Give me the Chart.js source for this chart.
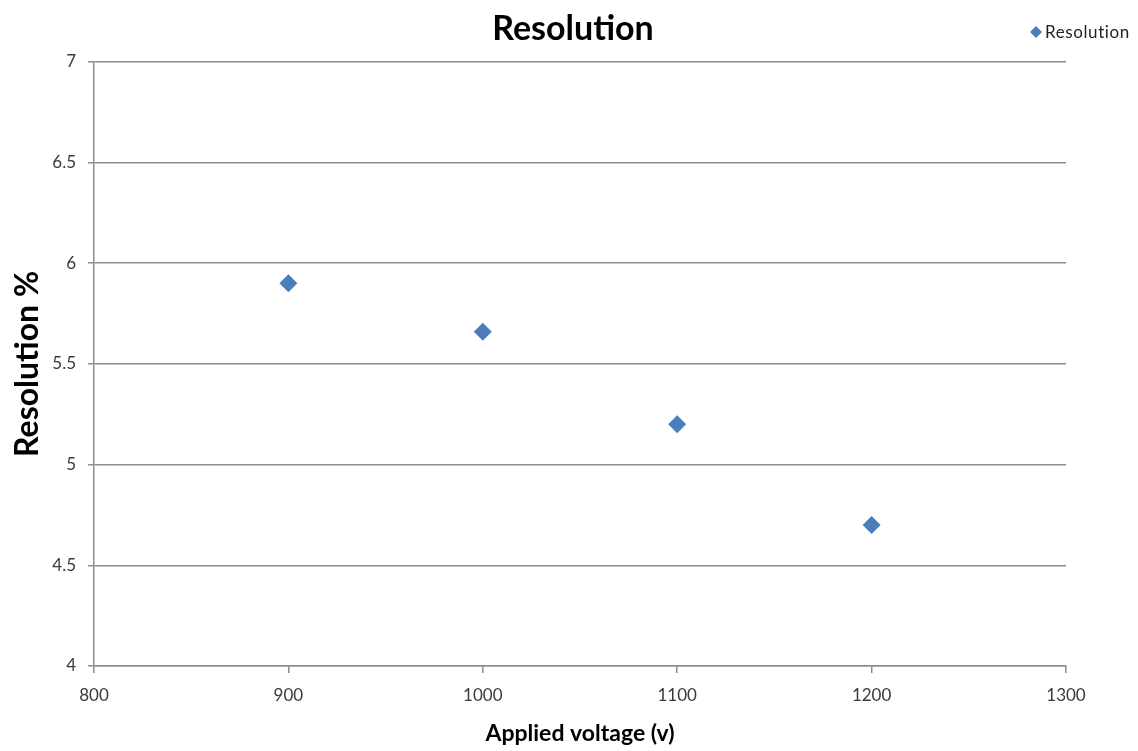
<!DOCTYPE html>
<html>
<head>
<meta charset="utf-8">
<title>Resolution</title>
<script src="https://cdn.jsdelivr.net/npm/chart.js@4/dist/chart.umd.min.js"></script>
<style>
    html, body { margin: 0; padding: 0; background: #fff; }
    #wrap { width: 1138px; height: 751px; }
</style>
</head>
<body>
<div id="wrap"><canvas id="resChart" width="1138" height="751"></canvas></div>
<script>
// Data
const seriesName = 'Resolution';
const voltages = [900, 1000, 1100, 1200];
const resolution = [5.9, 5.66, 5.2, 4.7];
const xTicks = [800, 900, 1000, 1100, 1200, 1300];
const yTicks = [4, 4.5, 5, 5.5, 6, 6.5, 7];

const FONT = "Lato, 'Open Sans', 'DejaVu Sans', sans-serif";
const MARK = '#4a7ebb';
const GRID = '#8e8e8e';

// Legend drawn in the top-right corner, Excel style
const cornerLegend = {
    id: 'cornerLegend',
    afterDraw(chart) {
        const ctx = chart.ctx;
        const ds = chart.data.datasets[0];
        ctx.save();
        ctx.fillStyle = ds.backgroundColor;
        const cx = 1036, cy = 32, r = 6;
        ctx.beginPath();
        ctx.moveTo(cx, cy - r);
        ctx.lineTo(cx + r, cy);
        ctx.lineTo(cx, cy + r);
        ctx.lineTo(cx - r, cy);
        ctx.closePath();
        ctx.fill();
        ctx.fillStyle = '#222';
        ctx.font = `17px ${FONT}`;
        ctx.letterSpacing = '0.6px';
        ctx.textBaseline = 'middle';
        ctx.fillText(ds.label, 1045, cy + 1);
        ctx.restore();
    }
};

function initChart() {
    const ctx = document.getElementById('resChart').getContext('2d');
    new Chart(ctx, {
        type: 'scatter',
        data: {
            datasets: [{
                label: seriesName,
                data: voltages.map((v, i) => ({ x: v, y: resolution[i] })),
                backgroundColor: MARK,
                borderColor: MARK,
                pointStyle: 'rectRot',
                pointRadius: 9,
                pointHoverRadius: 9,
                borderWidth: 0
            }]
        },
        options: {
            responsive: false,
            animation: false,
            layout: { padding: { left: 8, right: 0, top: 0, bottom: 4 } },
            plugins: {
                legend: { display: false },
                tooltip: { enabled: false },
                title: {
                    display: true,
                    text: seriesName,
                    color: '#000',
                    font: { family: FONT, size: 34, weight: 'bold' },
                    padding: { top: 9, bottom: 12 }
                }
            },
            scales: {
                x: {
                    type: 'linear',
                    min: xTicks[0],
                    max: xTicks[xTicks.length - 1],
                    afterBuildTicks: s => { s.ticks = xTicks.map(v => ({ value: v })); },
                    afterFit: s => { s.height = 751 - 666 - 4; },
                    ticks: {
                        color: '#3a3a3a',
                        font: { family: FONT, size: 17 },
                        padding: 12,
                        callback: v => String(v)
                    },
                    grid: { drawOnChartArea: false, color: GRID, tickLength: 7, lineWidth: 1.5 },
                    border: { display: true, color: GRID, width: 1.5 },
                    title: {
                        display: true,
                        text: 'Applied voltage (v)',
                        color: '#000',
                        font: { family: FONT, size: 23, weight: 'bold' },
                        padding: 0
                    }
                },
                y: {
                    min: yTicks[0],
                    max: yTicks[yTicks.length - 1],
                    afterBuildTicks: s => { s.ticks = yTicks.map(v => ({ value: v })); },
                    afterFit: s => { s.width = 94 - 8; },
                    ticks: {
                        color: '#3a3a3a',
                        font: { family: FONT, size: 17 },
                        padding: 12,
                        callback: v => String(v)
                    },
                    grid: { color: GRID, tickLength: 6, lineWidth: 1.5 },
                    border: { display: true, color: GRID, width: 1.5 },
                    title: {
                        display: true,
                        text: 'Resolution %',
                        color: '#000',
                        font: { family: FONT, size: 32, weight: 'bold' },
                        padding: 0
                    }
                },
                // empty right-hand gutter so the title stays centred on the page
                gutter: {
                    type: 'linear',
                    position: 'right',
                    display: true,
                    afterFit: s => { s.width = 1138 - 1066; },
                    ticks: { display: false },
                    grid: { display: false },
                    border: { display: false }
                }
            }
        },
        plugins: [cornerLegend]
    });
}

window.addEventListener('DOMContentLoaded', initChart);
</script>
</body>
</html>
